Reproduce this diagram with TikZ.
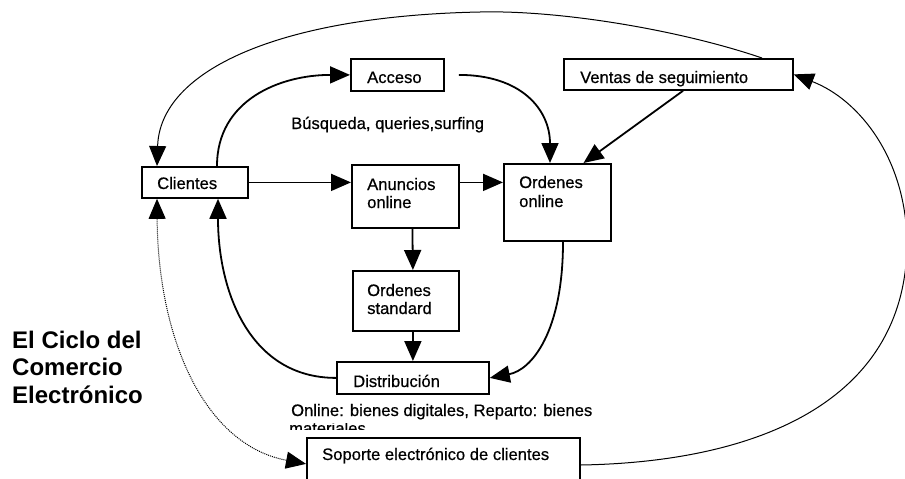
\documentclass[tikz,border=0pt]{standalone}
\usepackage{fontspec}
\setmainfont{Liberation Sans}
\newfontfamily\lblfont[FakeBold=0.6]{Liberation Sans}
\usetikzlibrary{arrows.meta,calc}
\begin{document}
\begin{tikzpicture}[x=1pt,y=-1pt,
  blk/.style={draw, line width=1.8pt, inner sep=0pt, anchor=north west},
  lbl/.style={anchor=base west, inner sep=0pt, font=\lblfont\fontsize{16.6}{19}\selectfont},
  ttl/.style={anchor=base west, inner sep=0pt, font=\fontsize{24}{28}\selectfont\bfseries},
  head/.tip={Triangle[length=20pt 0,width=17pt 0]},
  tipend/.style={-head},
  flow/.style={tipend, line width=1.8pt},
  loopline/.style={tipend, line width=1pt}]
\useasboundingbox (0,0) rectangle (905,479);

% boxes
\node[blk, minimum width=106pt, minimum height=31pt] (cli) at (141,166) {};
\node[blk, minimum width=93pt,  minimum height=32pt] (acc) at (350,58) {};
\node[blk, minimum width=229pt, minimum height=31pt] (ven) at (563,58) {};
\node[blk, minimum width=107pt, minimum height=63pt] (anu) at (351,164) {};
\node[blk, minimum width=107pt, minimum height=77pt] (ool) at (503,163) {};
\node[blk, minimum width=106pt, minimum height=60pt] (ost) at (352,270) {};
\node[blk, minimum width=152pt, minimum height=32pt] (dis) at (336,361) {};
\node[blk, minimum width=273pt, minimum height=60pt] (sop) at (306,437) {};

% box texts
\node[lbl] (cli-t) at (157,189) {Clientes};
\node[lbl] (acc-t) at (367,83) {Acceso};
\node[lbl] (ven-t) at (580,83) {Ventas de seguimiento};
\node[lbl] (anu-a) at (367,190) {Anuncios};
\node[lbl] (anu-b) at (367,208) {online};
\node[lbl] (ool-a) at (519,188) {Ordenes};
\node[lbl] (ool-b) at (519,207) {online};
\node[lbl] (ost-a) at (367,296) {Ordenes};
\node[lbl] (ost-b) at (367,314) {standard};
\node[lbl] (dis-t) at (353,387) {Distribución};
\node[lbl] (sop-t) at (322,460) {Soporte electrónico de clientes};

% free texts
\node[lbl] (bus) at (291,129) {Búsqueda, queries,surfing};
\node[lbl] (onl) at (291,416) {Online: bienes digitales, Reparto: bienes};
\begin{scope}
  % second line of the caption, cut by its frame
  \clip (280,423) rectangle (620,429.5);
  \node[lbl, text height=8pt, text depth=0pt] (mat) at (289,434) {materiales};
\end{scope}

% title
\node[ttl] (t1) at (12,348) {El Ciclo del};
\node[ttl] (t2) at (12,375) {Comercio};
\node[ttl] (t3) at (12,403) {Electrónico};

% main flow
\draw[flow] ($(cli.north west)+(76,0)$) .. controls +(0,-66) and ($(acc.west)+(-70,0)$) .. (acc.west);
\draw[flow] ($(acc.east)+(14,0)$) .. controls +(63,0) and ($(ool.north west)+(47,-53)$) .. ($(ool.north west)+(47,0)$);
\draw[flow] ($(ven.south west)!0.52!(ven.south east)$) -- ($(ool.north west)!0.74!(ool.north east)$);
\draw[flow] (cli.east) -- (cli.east -| anu.west);
\draw[flow] (cli.east -| anu.east) -- (cli.east -| ool.west);
\draw[flow] ($(anu.south)+(7,0)$) -- ($(ost.north)+(7,0)$);
\draw[flow] (ost.south -| dis.north) -- (dis.north);
\draw[flow] ($(ool.south west)+(60,0)$) .. controls +(0,90) and ($(dis.east)+(42,-8)$) .. (dis.east);
\draw[flow] (dis.west) .. controls +(-86,0) and ($(cli.south west)+(77,93)$) .. ($(cli.south west)+(77,0)$);

% outer loops
\draw[loopline] ($(ven.north west)+(199,0)$) .. controls (680,30) and (560,10) .. (480,12)
  .. controls (280,16) and (160,70) .. ($(cli.north west)+(16,0)$);
\draw[loopline] ($(sop.north east)+(0,28)$) .. controls (760,462) and (905,400) .. (907,245)
  .. controls (907,160) and (860,100) .. (ven.east);
\draw[line width=1pt, densely dotted, head-head]
  ($(cli.south west)+(16,0)$) .. controls (158,340) and (205,445) .. ($(sop.west)+(0,-4)$);
\end{tikzpicture}
\end{document}
